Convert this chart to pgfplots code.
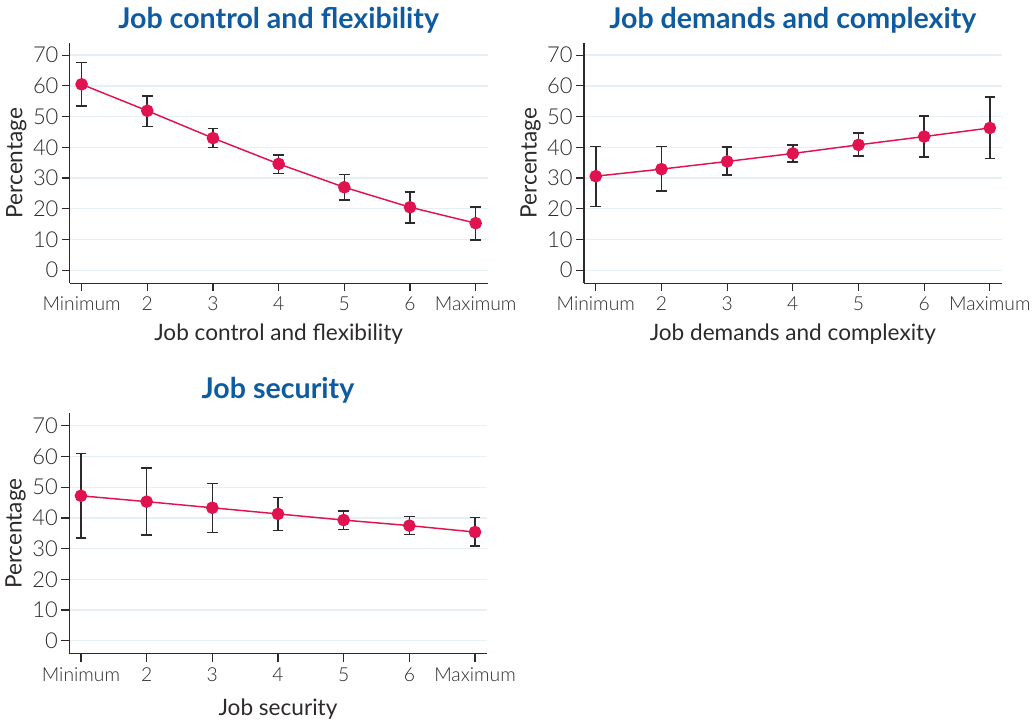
\documentclass[border=0pt]{standalone}
\usepackage{fontspec}
\setmainfont{Lato}
\newfontfamily\lightfont{Lato Light}
\usepackage{pgfplots}
\pgfplotsset{compat=1.18}
\usepackage{pgfplotstable}
\definecolor{ttl}{HTML}{0F5BA0}
\definecolor{pt}{HTML}{E0124F}
\definecolor{ax}{HTML}{2E2A2B}
\definecolor{grd}{HTML}{E6EFF3}

\pgfplotstableread{
x y ep em
1 60.5 7.1 7.1
2 51.9 4.8 5.1
3 43.0 3.1 3.1
4 34.6 2.9 3.1
5 27.0 4.1 4.2
6 20.5 5.0 5.1
7 15.3 5.3 5.5
}\dataA
\pgfplotstableread{
x y ep em
1 30.6 9.6 9.9
2 32.9 7.3 7.2
3 35.4 4.7 4.4
4 38.0 2.8 2.7
5 40.8 3.8 3.7
6 43.5 6.7 6.6
7 46.3 10.0 9.9
}\dataB
\pgfplotstableread{
x y ep em
1 47.2 13.8 13.7
2 45.3 10.9 10.9
3 43.3 7.9 8.0
4 41.3 5.4 5.4
5 39.3 3.0 3.1
6 37.5 2.9 2.9
7 35.4 4.8 4.6
}\dataC

\pgfplotsset{
  panel/.style={
    scale only axis,
    width=314.25pt, height=180.75pt,
    xmin=0.82, xmax=7.18, ymin=-4.2, ymax=74,
    axis x line*=bottom, axis y line*=left,
    axis line style={ax, line width=0.9pt, -},
    xtick={1,...,7},
    xticklabels={Minimum,2,3,4,5,6,Maximum},
    ytick={0,10,...,70},
    ymajorgrids, grid style={grd, line width=1pt},
    tick style={ax, line width=0.9pt},
    major tick length=6pt,
    tick align=outside,
    x tick label style={font=\lightfont\fontsize{14.5}{16}\selectfont, text=ax, yshift=-1pt},
    y tick label style={font=\lightfont\fontsize{16.5}{18}\selectfont, text=ax, xshift=1pt},
    /pgf/number format/assume math mode=true,
    xlabel style={font=\fontsize{17}{19}\selectfont, text=ax, yshift=-3pt},
    ylabel style={font=\fontsize{17}{19}\selectfont, text=ax, yshift=-2pt},
    ylabel={Percentage},
    title style={font=\bfseries\fontsize{21.5}{24}\selectfont, text=ttl, yshift=-2pt},
    clip=false,
  },
  ebar/.style={draw=none, mark=none, forget plot,
    error bars/.cd, y dir=both, y explicit,
    error bar style={ax, line width=1.2pt},
    error mark options={rotate=90, ax, mark size=4pt, line width=1.2pt}},
  ser/.style={pt, line width=1.1pt, mark=*, mark size=4.2pt, mark options={fill=pt, draw=pt}},
}

\begin{document}
\begin{tikzpicture}[x=1pt,y=1pt]
\path (0,0) rectangle (776.25,540);
% Panel 1
\begin{axis}[panel, at={(52.5pt,327pt)}, anchor=south west,
  title={Job control and flexibility}, xlabel={Job control and flexibility}]
\addplot[ebar] table[x=x, y=y, y error plus=ep, y error minus=em] {\dataA};
\addplot[ser] table[x=x, y=y] {\dataA};
\end{axis}
% Panel 2
\begin{axis}[panel, at={(439.3pt,327pt)}, anchor=south west,
  title={Job demands and complexity}, xlabel={Job demands and complexity}]
\addplot[ebar] table[x=x, y=y, y error plus=ep, y error minus=em] {\dataB};
\addplot[ser] table[x=x, y=y] {\dataB};
\end{axis}
% Panel 3
\begin{axis}[panel, at={(52pt,48.2pt)}, anchor=south west,
  title={Job security}, xlabel={Job security}, xlabel style={yshift=-3pt}]
\addplot[ebar] table[x=x, y=y, y error plus=ep, y error minus=em] {\dataC};
\addplot[ser] table[x=x, y=y] {\dataC};
\end{axis}
\end{tikzpicture}
\end{document}
